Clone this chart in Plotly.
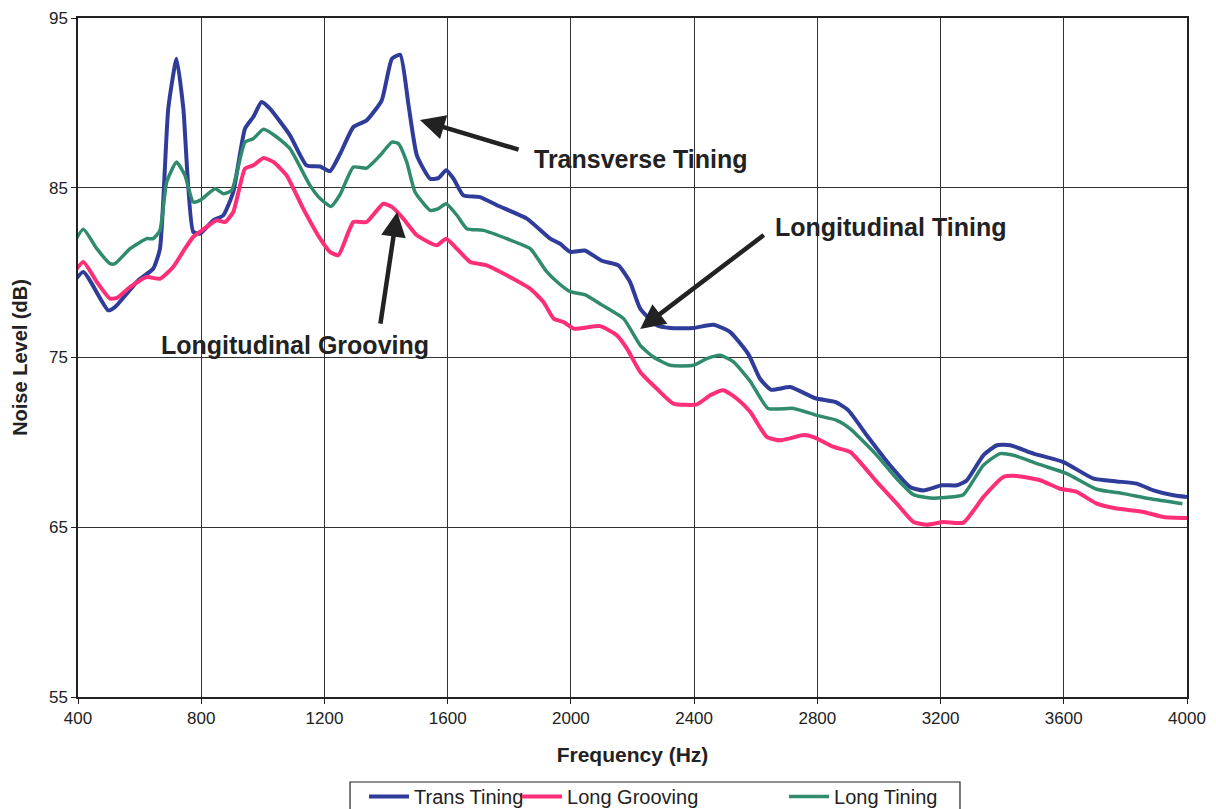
import plotly.graph_objects as go

# ---- data ----
trans_freq = [372, 417, 498, 520, 596, 644, 666, 693, 720, 742, 774, 796, 839, 872, 904, 942, 969, 996,
              1023, 1088, 1142, 1186, 1218, 1251, 1294, 1337, 1386, 1419, 1446, 1473, 1500, 1543, 1570,
              1595, 1619, 1651, 1705, 1760, 1857, 1933, 1965, 1998, 2045, 2100, 2154, 2192, 2225, 2279,
              2322, 2398, 2463, 2517, 2576, 2614, 2650, 2712, 2793, 2858, 2900, 2961, 3036, 3101, 3144,
              3204, 3253, 3285, 3339, 3383, 3426, 3502, 3599, 3697, 3772, 3837, 3891, 3956, 4000]
trans_db = [79.05, 80.04, 77.78, 77.97, 79.55, 80.23, 81.4, 89.66, 92.6, 89.66, 82.4, 82.3, 83.08, 83.38,
            84.75, 88.48, 89.17, 90.05, 89.66, 88.09, 86.32, 86.25, 85.98, 87.0, 88.58, 88.97, 90.15,
            92.6, 92.84, 89.86, 86.91, 85.53, 85.57, 86.03, 85.53, 84.55, 84.45, 83.97, 83.18, 82.0,
            81.7, 81.22, 81.3, 80.7, 80.43, 79.45, 77.88, 76.9, 76.74, 76.74, 76.93, 76.5, 75.2, 73.75,
            73.1, 73.26, 72.6, 72.38, 71.9, 70.41, 68.65, 67.37, 67.17, 67.47, 67.47, 67.76, 69.24,
            69.83, 69.83, 69.34, 68.84, 67.86, 67.7, 67.57, 67.17, 66.88, 66.78]

groove_freq = [372, 417, 461, 504, 526, 569, 623, 666, 709, 747, 774, 818, 850, 877, 904, 942, 969, 1002,
               1034, 1077, 1131, 1186, 1218, 1245, 1294, 1337, 1391, 1419, 1456, 1500, 1565, 1595, 1630,
               1673, 1727, 1792, 1868, 1911, 1944, 1976, 2009, 2095, 2149, 2182, 2225, 2279, 2333, 2409,
               2452, 2495, 2539, 2582, 2636, 2680, 2755, 2790, 2853, 2907, 2993, 3058, 3112, 3155, 3209,
               3274, 3339, 3404, 3447, 3523, 3588, 3642, 3707, 3772, 3859, 3924, 4000]
groove_db = [79.55, 80.63, 79.45, 78.47, 78.51, 79.15, 79.74, 79.64, 80.33, 81.41, 82.1, 82.69, 83.08,
             82.98, 83.57, 86.12, 86.32, 86.75, 86.52, 85.73, 83.77, 82.0, 81.22, 81.02, 82.98, 82.98,
             84.06, 83.87, 83.18, 82.2, 81.61, 82.0, 81.41, 80.63, 80.43, 79.84, 79.05, 78.27, 77.29,
             77.09, 76.7, 76.85, 76.31, 75.52, 74.15, 73.16, 72.28, 72.24, 72.77, 73.07, 72.57, 71.8,
             70.32, 70.12, 70.43, 70.3, 69.73, 69.43, 67.67, 66.39, 65.31, 65.15, 65.31, 65.27, 66.78,
             67.96, 68.02, 67.77, 67.27, 67.08, 66.39, 66.1, 65.9, 65.6, 65.54]

long_freq = [372, 417, 461, 504, 520, 569, 623, 644, 666, 688, 720, 747, 774, 796, 845, 872, 899, 942, 969,
             1002, 1045, 1088, 1153, 1186, 1221, 1251, 1294, 1337, 1381, 1419, 1440, 1467, 1494, 1543,
             1570, 1595, 1630, 1662, 1716, 1792, 1868, 1922, 1965, 1998, 2045, 2100, 2171, 2225, 2268,
             2322, 2398, 2441, 2484, 2528, 2582, 2640, 2723, 2798, 2863, 2907, 2993, 3058, 3112, 3166,
             3231, 3274, 3339, 3393, 3437, 3523, 3610, 3707, 3794, 3881, 3985]
long_db = [81.21, 82.55, 81.41, 80.53, 80.53, 81.41, 82.0, 82.0, 82.49, 85.34, 86.52, 85.73, 84.16, 84.26,
           84.94, 84.65, 84.85, 87.69, 87.89, 88.44, 87.99, 87.3, 85.14, 84.36, 83.9, 84.6, 86.22, 86.16,
           86.91, 87.69, 87.6, 86.52, 84.75, 83.67, 83.77, 84.06, 83.38, 82.59, 82.49, 82.0, 81.41, 80.04,
           79.3, 78.88, 78.7, 78.1, 77.29, 75.72, 75.03, 74.54, 74.54, 74.93, 75.13, 74.74, 73.6, 72.0,
           72.0, 71.59, 71.3, 70.8, 69.24, 67.86, 66.92, 66.72, 66.78, 66.92, 68.65, 69.34, 69.24, 68.69,
           68.16, 67.24, 66.98, 66.68, 66.39]

x_ticks = [400, 800, 1200, 1600, 2000, 2400, 2800, 3200, 3600, 4000]
y_ticks = [55, 65, 75, 85, 95]

FONT = "Arial, 'Liberation Sans', sans-serif"
INK = "#222"

fig = go.Figure()
fig.add_trace(go.Scatter(x=trans_freq, y=trans_db, mode="lines", name="Trans Tining",
                         line=dict(color="#2F3C9A", width=4, shape="spline", smoothing=0.5),
                         legend="legend"))
fig.add_trace(go.Scatter(x=groove_freq, y=groove_db, mode="lines", name="Long Grooving",
                         line=dict(color="#FF2E78", width=4, shape="spline", smoothing=0.5),
                         legend="legend2"))
fig.add_trace(go.Scatter(x=long_freq, y=long_db, mode="lines", name="Long Tining",
                         line=dict(color="#2F8A6E", width=3.5, shape="spline", smoothing=0.5),
                         legend="legend3"))

axis_common = dict(showline=True, linecolor=INK, linewidth=1.5, mirror=True,
                   showgrid=True, gridcolor="#333", gridwidth=1.2, zeroline=False,
                   ticks="outside", ticklen=5, tickcolor=INK, automargin=False,
                   tickfont=dict(family=FONT, size=17, color=INK))

fig.update_xaxes(range=[400, 4000], tickvals=x_ticks,
                 title=dict(text="<b>Frequency (Hz)</b>", font=dict(family=FONT, size=21, color=INK),
                            standoff=20),
                 **axis_common)
fig.update_yaxes(range=[55, 95], tickvals=y_ticks,
                 title=dict(text="<b>Noise Level (dB)</b>", font=dict(family=FONT, size=20, color=INK),
                            standoff=16),
                 **axis_common)

ann_font = dict(family=FONT, size=25, color=INK)
arrow_style = dict(showarrow=True, arrowhead=2, arrowsize=1.1, arrowwidth=4.5, arrowcolor=INK,
                   axref="x", ayref="y", xref="x", yref="y", text="", standoff=0)
fig.add_annotation(x=1510, y=88.99, ax=1835, ay=87.22, **arrow_style)
fig.add_annotation(x=2225, y=76.68, ax=2631, ay=82.28, **arrow_style)
fig.add_annotation(x=1436, y=83.57, ax=1381, ay=76.91, **arrow_style)
fig.add_annotation(x=2228, y=86.69, text="<b>Transverse Tining</b>", showarrow=False,
                   xref="x", yref="y", font=ann_font)
fig.add_annotation(x=2657, y=82.69, text="<b>Longitudinal Tining</b>", showarrow=False,
                   xref="x", yref="y", xanchor="left", font=ann_font)
fig.add_annotation(x=1105, y=75.74, text="<b>Longitudinal Grooving</b>", showarrow=False,
                   xref="x", yref="y", font=ann_font)

# legend frame
fig.add_shape(type="rect", xref="paper", yref="paper", x0=0.2453, x1=0.7953, y0=-0.2, y1=-0.1252,
              line=dict(color=INK, width=1.2), fillcolor="rgba(0,0,0,0)", layer="above")

TOP = 10
FIG_H = 801 + (TOP - 8)
leg_common = dict(orientation="h", xref="container", yref="container", y=1 - (767 + TOP - 8) / FIG_H,
                  xanchor="left", yanchor="top", bgcolor="rgba(0,0,0,0)", borderwidth=0,
                  font=dict(family=FONT, size=20, color=INK), itemwidth=40)

fig.update_layout(
    width=1208, height=FIG_H,
    margin=dict(l=70, r=29, t=TOP, b=114),
    paper_bgcolor="white", plot_bgcolor="white",
    showlegend=True,
    legend=dict(x=0.2947, **leg_common),
    legend2=dict(x=0.4214, **leg_common),
    legend3=dict(x=0.6424, **leg_common),
)

fig.write_html("out.html")
